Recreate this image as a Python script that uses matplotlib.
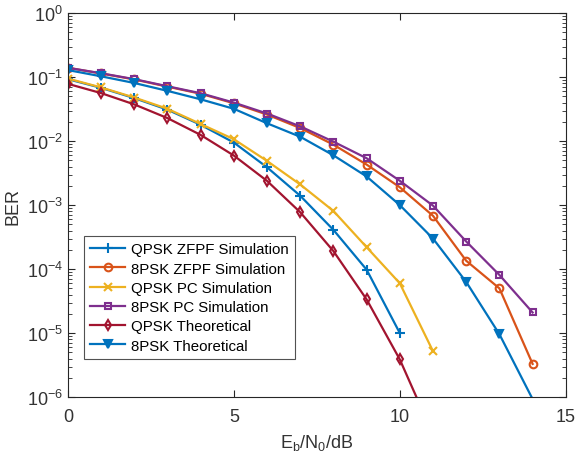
import matplotlib
matplotlib.use('Agg')
import matplotlib.pyplot as plt
from matplotlib.ticker import LogLocator, NullFormatter

plt.rcParams['font.family'] = ['Liberation Sans', 'DejaVu Sans']
plt.rcParams['mathtext.default'] = 'regular'

# Eb/N0 (dB)
snr_qpsk_zf = [0, 1, 2, 3, 4, 5, 6, 7, 8, 9, 10]
ber_qpsk_zf = [0.093, 0.068, 0.047, 0.031, 0.018, 0.0095, 0.0039, 0.0014, 4.1e-4, 9.8e-5, 1.0e-5]

snr_8psk_zf = [0, 1, 2, 3, 4, 5, 6, 7, 8, 9, 10, 11, 12, 13, 14]
ber_8psk_zf = [0.14, 0.114, 0.092, 0.071, 0.055, 0.039, 0.026, 0.016, 0.0088, 0.0043,
               0.0019, 6.8e-4, 1.35e-4, 5.0e-5, 3.3e-6]

snr_qpsk_pc = [0, 1, 2, 3, 4, 5, 6, 7, 8, 9, 10, 11]
ber_qpsk_pc = [0.095, 0.069, 0.048, 0.032, 0.0185, 0.0107, 0.0049, 0.0021, 8.1e-4, 2.2e-4, 6.0e-5, 5.2e-6]

snr_8psk_pc = [0, 1, 2, 3, 4, 5, 6, 7, 8, 9, 10, 11, 12, 13, 14]
ber_8psk_pc = [0.14, 0.115, 0.093, 0.072, 0.056, 0.040, 0.027, 0.017, 0.0098, 0.0054,
               0.0024, 9.8e-4, 2.7e-4, 8.1e-5, 2.1e-5]

snr_qpsk_th = [0, 1, 2, 3, 4, 5, 6, 7, 8, 9, 10, 11]
ber_qpsk_th = [0.0786, 0.0563, 0.0375, 0.0229, 0.0125, 0.00595, 0.00239, 7.73e-4,
               1.91e-4, 3.36e-5, 3.87e-6, 2.6e-7]

snr_8psk_th = [0, 1, 2, 3, 4, 5, 6, 7, 8, 9, 10, 11, 12, 13, 14]
ber_8psk_th = [0.129, 0.103, 0.081, 0.061, 0.045, 0.032, 0.019, 0.0117, 0.006, 0.0028,
               0.001, 3.0e-4, 6.3e-5, 9.6e-6, 9.3e-7]

fig = plt.figure(figsize=(5.75, 4.56), dpi=100)
ax = fig.add_axes([0.118, 0.127, 0.866, 0.842])

lw = 1.6
ax.semilogy(snr_qpsk_zf, ber_qpsk_zf, '-+', color='#0072BD', lw=lw, ms=6.5, mew=1.5,
            label='QPSK ZFPF Simulation')
ax.semilogy(snr_8psk_zf, ber_8psk_zf, '-o', color='#D95319', lw=lw, ms=5.5, mew=1.5,
            mfc='none', label='8PSK ZFPF Simulation')
ax.semilogy(snr_qpsk_pc, ber_qpsk_pc, '-x', color='#EDB120', lw=lw, ms=5.5, mew=1.5,
            label='QPSK PC Simulation')
ax.semilogy(snr_8psk_pc, ber_8psk_pc, '-s', color='#7E2F8E', lw=lw, ms=5, mew=1.5,
            mfc='none', label='8PSK PC Simulation')
ax.semilogy(snr_qpsk_th, ber_qpsk_th, '-d', color='#A2142F', lw=lw, ms=5.5, mew=1.5,
            mfc='none', label='QPSK Theoretical')
# marker at 14 dB lies below the axis limit and is not drawn
ax.semilogy(snr_8psk_th, ber_8psk_th, '-v', color='#0072BD', lw=lw, ms=6, mew=1.5,
            markevery=list(range(len(snr_8psk_th) - 1)), label='8PSK Theoretical')

ax.set_xlim(0, 15)
ax.set_ylim(1e-6, 1)
ax.set_xticks([0, 5, 10, 15])
ax.yaxis.set_major_locator(LogLocator(base=10, numticks=10))
ax.yaxis.set_minor_locator(LogLocator(base=10, subs=range(2, 10), numticks=100))
ax.yaxis.set_minor_formatter(NullFormatter())

ax.tick_params(which='both', direction='in', top=True, right=True, colors='#262626',
               labelsize=13, labelcolor='#333333')
ax.tick_params(which='major', length=5, width=0.8)
ax.tick_params(which='minor', length=3, width=0.6)
ax.tick_params(axis='x', pad=8)
for s in ax.spines.values():
    s.set_color('#262626')
    s.set_linewidth(0.8)

ax.set_xlabel('$E_b/N_0$/dB', fontsize=13, color='#333333', labelpad=5)
ax.set_ylabel('BER', fontsize=13, color='#333333')

leg = ax.legend(loc='lower left', bbox_to_anchor=(0.033, 0.1), fontsize=10.8,
                fancybox=False, edgecolor='#262626', handlelength=2.3,
                labelspacing=0.35, borderaxespad=0, handletextpad=0.4)
leg.get_frame().set_linewidth(0.8)

plt.savefig('out.png', dpi=100)
